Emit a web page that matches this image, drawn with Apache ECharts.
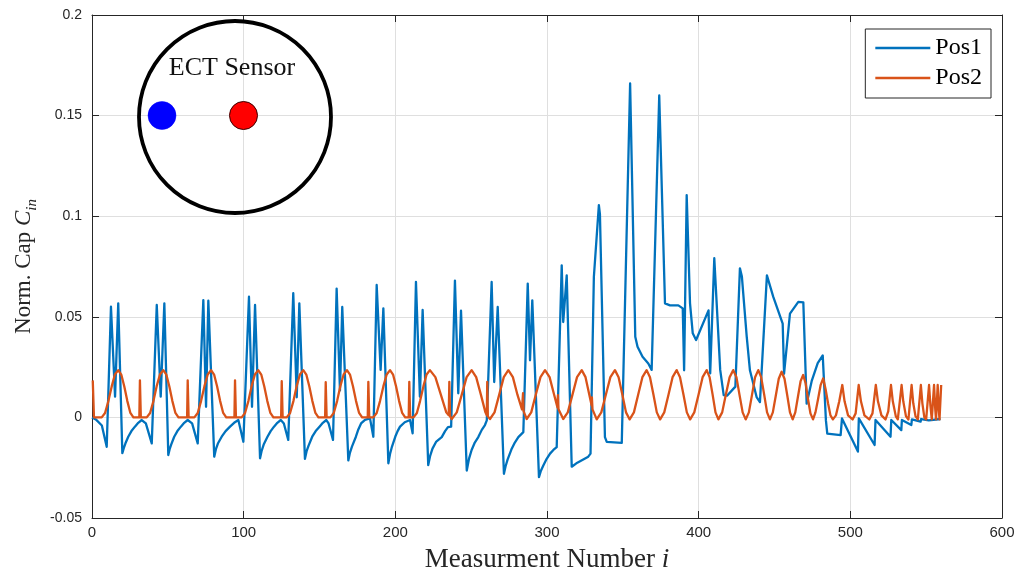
<!DOCTYPE html>
<html>
<head>
<meta charset="utf-8">
<script src="https://cdn.jsdelivr.net/npm/echarts@6/dist/echarts.min.js"></script>
<style>
  html, body { margin: 0; padding: 0; background: #ffffff; }
  #chart { width: 1021px; height: 576px; }
</style>
</head>
<body>
<div id="chart"></div>
<script>
// Axis ticks
const X_TICKS = [0, 100, 200, 300, 400, 500, 600];
const Y_TICKS = [-0.05, 0, 0.05, 0.1, 0.15, 0.2];
const SERIES_NAMES = ['Pos1', 'Pos2'];

// Normalised capacitance per measurement, object at position 1: [i, C]
const pos1 = [
  [0, 0], [2.5, -0.001], [6.5, -0.004], [9.7, -0.0146], [12.5, 0.055], [15.2, 0.0103], [17.3, 0.0567], [20.0, -0.0178],
  [21.0, -0.0152], [22.0, -0.013], [23.9, -0.0096], [26.0, -0.0068], [28.3, -0.0046], [30.5, -0.0027], [32.8, -0.0013], [35.5, -0.003],
  [39.4, -0.0129], [42.7, 0.0559], [45.3, 0.0103], [47.7, 0.0567], [50.3, -0.0187], [51.2, -0.0158], [52.2, -0.0135], [54.2, -0.0096],
  [56.3, -0.0068], [58.6, -0.0046], [60.8, -0.0027], [63.1, -0.0013], [66.0, -0.003],
  [69.7, -0.0129], [73.4, 0.0583], [75.2, 0.0053], [76.7, 0.058], [80.6, -0.0195], [81.7, -0.0158], [83.0, -0.013], [85.5, -0.0096],
  [88.1, -0.0068], [91.0, -0.0046], [93.7, -0.0027], [96.5, -0.0013], [97.6, -0.002],
  [99.8, -0.0121], [103.5, 0.060], [105.5, 0.0053], [107.5, 0.0559], [110.8, -0.0203], [111.9, -0.0165], [113.2, -0.0135], [115.7, -0.0096],
  [117.8, -0.0068], [120.0, -0.0046], [122.2, -0.0027], [124.5, -0.0013], [126.5, -0.003],
  [129.4, -0.0112], [132.7, 0.0617], [135.0, 0.010], [136.7, 0.0567], [140.4, -0.0206], [141.5, -0.0168], [142.8, -0.014], [145.2, -0.0096],
  [147.5, -0.0068], [150.0, -0.0046], [152.2, -0.0027], [154.5, -0.0013], [156.0, -0.003],
  [158.9, -0.0112], [161.3, 0.064], [163.5, 0.0134], [165.0, 0.0549], [169.0, -0.0214], [170.1, -0.0175], [171.4, -0.0145], [174.0, -0.0096],
  [175.6, -0.006], [177.4, -0.003], [180.0, -0.0012], [183.3, -0.0005],
  [185.5, -0.0096], [187.7, 0.0658], [190.3, 0.0236], [192.1, 0.0542], [195.4, -0.0228], [196.5, -0.0182], [197.8, -0.0145], [200.0, -0.0095],
  [201.5, -0.0068], [203.1, -0.0046], [206.2, -0.0024], [209.7, -0.0013],
  [211.4, -0.0079], [213.6, 0.0674], [216.2, 0.0103], [218.0, 0.0534], [221.7, -0.0237], [223.0, -0.019], [224.5, -0.0155], [227.0, -0.012],
  [230.6, -0.0098], [232.8, -0.0068], [234.7, -0.0048], [236.8, -0.0046],
  [239.3, 0.068], [241.5, 0.012], [243.3, 0.053], [247.1, -0.0264], [248.6, -0.0205], [250.3, -0.0162], [252.4, -0.0125], [254.7, -0.0098],
  [257.0, -0.0062], [259.1, -0.0038], [260.3, -0.0015],
  [263.5, 0.0673], [265.2, 0.0176], [267.5, 0.0549], [271.6, -0.028], [272.7, -0.0243], [274.0, -0.021], [276.5, -0.016], [278.8, -0.0125],
  [281.1, -0.0098], [284.4, -0.0073],
  [287.3, 0.0665], [288.8, 0.0284], [290.3, 0.0582], [294.7, -0.0297], [296.0, -0.0265], [297.5, -0.024], [299.7, -0.0207], [302.0, -0.018],
  [304.2, -0.0162], [306.4, -0.0148], [307.5, -0.014],
  [309.7, 0.0756], [310.7, 0.0474], [313.0, 0.0706], [316.3, -0.0245], [320.0, -0.0225], [323.6, -0.021], [327.2, -0.0195], [328.7, -0.018],
  [330.9, 0.0698], [334.2, 0.1055], [334.9, 0.101], [338.2, -0.0098], [339.4, -0.0122], [349.3, -0.0127],
  [354.8, 0.166], [358.2, 0.0401], [359.7, 0.0351], [363.0, 0.0301], [366.8, 0.0268], [369.0, 0.0236], [370.1, 0.0227],
  [374.0, 0.160], [377.8, 0.0567], [381.1, 0.0557], [386.6, 0.0557], [389.5, 0.0542], [390.4, 0.0234], [392.1, 0.1105],
  [394.3, 0.0567], [396.1, 0.0418], [398.3, 0.0385], [406.5, 0.0532], [407.6, 0.0219], [410.3, 0.0791], [414.2, 0.0236],
  [416.5, 0.0111], [418.7, 0.0108], [424.2, 0.0153], [427.2, 0.0741], [428.5, 0.070], [431.7, 0.040], [433.8, 0.0234],
  [438.2, 0.0101], [440.4, 0.0076], [445.0, 0.0706], [449.2, 0.0599], [455.4, 0.0466], [456.3, 0.0217], [460.2, 0.0516],
  [465.7, 0.0574], [469.0, 0.0572], [471.2, 0.0068], [474.5, 0.018], [478.5, 0.027], [481.8, 0.0308],
  [483.9, -0.0015], [484.8, -0.0081], [493.6, -0.0088], [494.5, -0.0005], [505.0, -0.017], [505.6, -0.0005],
  [516.0, -0.0137], [516.6, -0.0013], [526.5, -0.0096], [527.0, -0.0013], [533.6, -0.0063], [534.0, -0.0013],
  [540.2, -0.0038], [540.6, -0.001], [546.3, -0.0021], [546.7, -0.0008], [551.7, -0.0015], [552.1, -0.0006],
  [559.5, -0.0008]
];

// Normalised capacitance per measurement, object at position 2: [i, C]
const pos2 = [
  [0.5, 0.0184], [1.3, 0.0], [6.4, 0.0],
  [8.6, 0.0022], [10.8, 0.0081], [13.0, 0.0154], [15.1, 0.0213], [17.3, 0.0235],
  [19.3, 0.0213], [21.3, 0.0154], [23.3, 0.0081], [25.3, 0.0022], [27.3, 0.0],
  [31.2, 0.0], [31.6, 0.0184], [32.2, 0.0], [36.1, 0.0],
  [38.3, 0.0022], [40.5, 0.0081], [42.6, 0.0154], [44.8, 0.0213], [47.0, 0.0235],
  [49.0, 0.0213], [51.0, 0.0154], [53.0, 0.0081], [55.0, 0.0022], [57.0, 0.0],
  [62.7, 0.0], [63.1, 0.0184], [63.7, 0.0], [67.5, 0.0],
  [69.7, 0.0022], [71.9, 0.0081], [74.1, 0.0154], [76.3, 0.0213], [78.5, 0.0235],
  [80.5, 0.0213], [82.5, 0.0154], [84.5, 0.0081], [86.5, 0.0022], [88.5, 0.0],
  [93.9, 0.0], [94.3, 0.0184], [94.9, 0.0], [98.7, 0.0],
  [100.9, 0.0022], [103.1, 0.0081], [105.2, 0.0154], [107.4, 0.0213], [109.6, 0.0235],
  [111.6, 0.0213], [113.6, 0.0154], [115.6, 0.0081], [117.6, 0.0022], [119.6, 0.0],
  [124.7, 0.0], [125.1, 0.018], [125.7, 0.0], [128.4, 0.0],
  [130.6, 0.0022], [132.8, 0.0081], [134.9, 0.0154], [137.1, 0.0213], [139.3, 0.0235],
  [141.3, 0.0213], [143.3, 0.0154], [145.3, 0.0081], [147.3, 0.0022], [149.3, 0.0],
  [153.7, 0.0], [154.1, 0.0175], [154.7, 0.0], [157.2, 0.0],
  [159.4, 0.0022], [161.6, 0.0081], [163.7, 0.0154], [165.9, 0.0213], [168.1, 0.0235],
  [170.1, 0.0213], [172.1, 0.0154], [174.1, 0.0081], [176.1, 0.0022], [178.1, 0.0],
  [181.8, 0.0], [182.2, 0.0177], [182.8, 0.0], [185.5, 0.0],
  [187.7, 0.0022], [189.9, 0.0081], [192.1, 0.0154], [194.3, 0.0213], [196.5, 0.0235],
  [198.5, 0.0213], [200.5, 0.0154], [202.5, 0.0081], [204.5, 0.0022], [206.5, 0.0],
  [208.8, 0.0], [209.2, 0.0177], [209.8, 0.0], [212.0, 0.0],
  [214.2, 0.0022], [216.3, 0.0081], [218.5, 0.0154], [220.6, 0.0213], [222.8, 0.0235],
  [226.4, 0.0200], [230.0, 0.0113], [233.6, 0.0025], [235.2, 0.001], [235.6, 0.0177], [236.1, 0.0005], [237.2, -0.0008],
  [240.5, 0.0025], [243.8, 0.0113], [247.0, 0.0200], [250.3, 0.0235],
  [253.3, 0.0200], [256.4, 0.0113], [259.4, 0.0025], [260.3, 0.001], [260.6, 0.0177], [261.0, 0.0005], [262.4, -0.0008],
  [265.4, 0.0025], [268.5, 0.0113], [271.5, 0.0200], [274.5, 0.0235],
  [277.5, 0.0200], [280.5, 0.0113], [283.5, 0.004], [284.2, 0.012], [284.6, 0.003], [286.6, -0.0008],
  [289.6, 0.0025], [292.6, 0.0113], [295.7, 0.0200], [298.7, 0.0235],
  [301.7, 0.0200], [304.7, 0.0113], [306.9, 0.005], [307.2, 0.011], [307.6, 0.004], [310.7, -0.0008],
  [313.7, 0.0025], [316.8, 0.0113], [319.8, 0.0200], [322.9, 0.0235],
  [325.4, 0.0200], [327.9, 0.0113], [329.4, 0.006], [329.6, 0.010], [330.0, 0.004], [332.8, -0.001],
  [335.8, 0.0025], [338.8, 0.0113], [341.8, 0.0200], [344.8, 0.0235],
  [347.2, 0.0200], [349.7, 0.0113], [352.1, 0.0025], [354.5, -0.001],
  [357.3, 0.0025], [360.1, 0.0113], [362.9, 0.0200], [365.7, 0.0235],
  [367.9, 0.0200], [370.2, 0.0113], [372.4, 0.0025], [374.6, -0.001],
  [377.3, 0.0025], [380.1, 0.0113], [382.8, 0.0200], [385.5, 0.0235],
  [387.7, 0.0200], [390.0, 0.0113], [392.2, 0.0025], [394.4, -0.001],
  [397.1, 0.0025], [399.9, 0.0113], [402.6, 0.0200], [405.3, 0.0235],
  [407.2, 0.0200], [409.2, 0.0113], [411.1, 0.0025], [413.0, -0.001],
  [415.5, 0.0025], [417.9, 0.0113], [420.4, 0.0200], [422.8, 0.0235],
  [424.9, 0.0200], [426.9, 0.0113], [429.0, 0.0025], [431.0, -0.001],
  [433.1, 0.0025], [435.2, 0.0113], [437.2, 0.0200], [439.3, 0.0235],
  [441.2, 0.0200], [443.2, 0.0113], [445.1, 0.0025], [447.0, -0.001],
  [448.9, 0.0025], [450.9, 0.0110], [452.8, 0.0192], [454.7, 0.0227],
  [456.6, 0.0192], [458.4, 0.0110], [460.2, 0.0025], [462.0, -0.001],
  [463.7, 0.0025], [465.4, 0.0100], [467.2, 0.0180], [468.9, 0.0211],
  [470.5, 0.0170], [472.1, 0.0090], [473.7, 0.002], [475.4, -0.001],
  [477.0, 0.0025], [478.7, 0.0090], [480.4, 0.016], [482.1, 0.0194],
  [483.7, 0.0140], [485.3, 0.0070], [486.9, 0.001], [488.5, -0.001],
  [490.5, 0.001], [492.7, 0.008], [494.7, 0.0161],
  [496.2, 0.008], [498.5, 0.001], [501.5, -0.001], [503.5, 0.002], [505.5, 0.0161],
  [507.0, 0.008], [509.3, 0.001], [512.5, -0.001], [514.6, 0.002], [516.8, 0.0161],
  [518.2, 0.008], [520.5, 0.001], [523.2, -0.001], [525.0, 0.003], [526.8, 0.0161],
  [528.0, 0.008], [530.0, 0.0005], [531.3, -0.001], [533.8, 0.0161],
  [534.9, 0.008], [536.7, 0.0005], [538.3, -0.001], [540.4, 0.0161],
  [541.5, 0.007], [543.0, 0.0005], [544.5, -0.001], [546.5, 0.0161],
  [547.5, 0.007], [548.8, 0.0], [550.0, -0.001], [551.9, 0.0161],
  [552.8, 0.006], [553.7, -0.001], [555.2, 0.0161],
  [556.0, 0.004], [556.5, -0.001], [557.6, 0.0161],
  [558.3, 0.004], [558.8, -0.001], [559.9, 0.0161]
];

const SANS = "'Liberation Sans', Arial, Helvetica, sans-serif";
const SERIF = "'Liberation Serif', 'Times New Roman', serif";
const AXIS_COLOR = '#262626';
const GRID_COLOR = '#dfdfdf';

const xMin = X_TICKS[0], xMax = X_TICKS[X_TICKS.length - 1], xStep = X_TICKS[1] - X_TICKS[0];
const yMin = Y_TICKS[0], yMax = Y_TICKS[Y_TICKS.length - 1], yStep = +(Y_TICKS[1] - Y_TICKS[0]).toFixed(4);

// Plain framing axis (top / right edge of the box) with inward ticks
function frameAxis(extra) {
  return Object.assign({
    type: 'value',
    axisLine: { show: true, onZero: false, lineStyle: { color: AXIS_COLOR, width: 1 } },
    axisTick: { show: true, inside: true, length: 7, lineStyle: { color: AXIS_COLOR, width: 1 } },
    splitLine: { show: false },
    axisLabel: { show: false }
  }, extra);
}

const chart = echarts.init(document.getElementById('chart'), null, { renderer: 'canvas' });

chart.setOption({
  animation: false,
  backgroundColor: '#ffffff',
  grid: { left: 92, right: 19, top: 15, bottom: 58, containLabel: false, outerBoundsMode: 'none' },
  legend: {
    data: SERIES_NAMES,
    orient: 'vertical',
    right: 30,
    top: 29,
    icon: 'rect',
    itemWidth: 55,
    itemHeight: 2.5,
    itemGap: 6,
    padding: [7, 9, 8, 10],
    borderColor: AXIS_COLOR,
    borderWidth: 1,
    backgroundColor: '#ffffff',
    textStyle: { fontFamily: SERIF, fontSize: 24, color: '#000000' }
  },
  xAxis: [
    frameAxis({
      position: 'bottom', min: xMin, max: xMax, interval: xStep,
      axisLabel: { show: true, color: AXIS_COLOR, fontFamily: SANS, fontSize: 15, margin: 7 },
      splitLine: { show: true, lineStyle: { color: GRID_COLOR, width: 1 } },
      name: '{n|Measurment Number }{i|i}',
      nameLocation: 'middle',
      nameGap: 28,
      nameTextStyle: {
        fontFamily: SERIF, fontSize: 27, color: AXIS_COLOR,
        rich: {
          n: { fontFamily: SERIF, fontSize: 27, color: AXIS_COLOR },
          i: { fontFamily: SERIF, fontSize: 27, fontStyle: 'italic', color: AXIS_COLOR }
        }
      }
    }),
    frameAxis({ position: 'top', min: xMin, max: xMax, interval: xStep })
  ],
  yAxis: [
    frameAxis({
      position: 'left', min: yMin, max: yMax, interval: yStep,
      axisLabel: {
        show: true, color: AXIS_COLOR, fontFamily: SANS, fontSize: 14, margin: 10,
        formatter: v => String(+v.toFixed(2))
      },
      splitLine: { show: true, lineStyle: { color: GRID_COLOR, width: 1 } },
      name: '{n|Norm. Cap }{c|C}{s|in}',
      nameLocation: 'middle',
      nameRotate: 90,
      nameGap: 49,
      nameTextStyle: {
        fontFamily: SERIF, fontSize: 23, color: AXIS_COLOR,
        rich: {
          n: { fontFamily: SERIF, fontSize: 23, color: AXIS_COLOR, lineHeight: 30 },
          c: { fontFamily: SERIF, fontSize: 23, fontStyle: 'italic', color: AXIS_COLOR, lineHeight: 30 },
          s: { fontFamily: SERIF, fontSize: 15, fontStyle: 'italic', color: AXIS_COLOR, lineHeight: 15, verticalAlign: 'bottom' }
        }
      }
    }),
    frameAxis({ position: 'right', min: yMin, max: yMax, interval: yStep })
  ],
  series: [
    {
      name: SERIES_NAMES[0], type: 'line', data: pos1,
      xAxisIndex: 0, yAxisIndex: 0,
      symbol: 'none', showSymbol: false, clip: true,
      color: '#0072BD',
      lineStyle: { color: '#0072BD', width: 2.3, join: 'round' },
      emphasis: { disabled: true }
    },
    {
      name: SERIES_NAMES[1], type: 'line', data: pos2,
      xAxisIndex: 0, yAxisIndex: 0,
      symbol: 'none', showSymbol: false, clip: true,
      color: '#D95319',
      lineStyle: { color: '#D95319', width: 2.3, join: 'round' },
      emphasis: { disabled: true }
    }
  ],
  // Sensor cross-section sketch in the upper-left corner
  graphic: [
    {
      type: 'circle', shape: { cx: 235, cy: 117, r: 96 },
      style: { fill: 'none', stroke: '#000000', lineWidth: 3.8 }, z: 10
    },
    {
      type: 'text', x: 232, y: 68,
      style: { text: 'ECT Sensor', fontFamily: SERIF, fontSize: 26, fill: '#111111', align: 'center', verticalAlign: 'middle' },
      z: 10
    },
    {
      type: 'circle', shape: { cx: 162, cy: 115.5, r: 14 },
      style: { fill: '#0000FF', stroke: '#0000FF', lineWidth: 0.5 }, z: 10
    },
    {
      type: 'circle', shape: { cx: 243.5, cy: 115.5, r: 14 },
      style: { fill: '#FF0000', stroke: '#3a0000', lineWidth: 1 }, z: 10
    }
  ]
});
</script>
</body>
</html>
